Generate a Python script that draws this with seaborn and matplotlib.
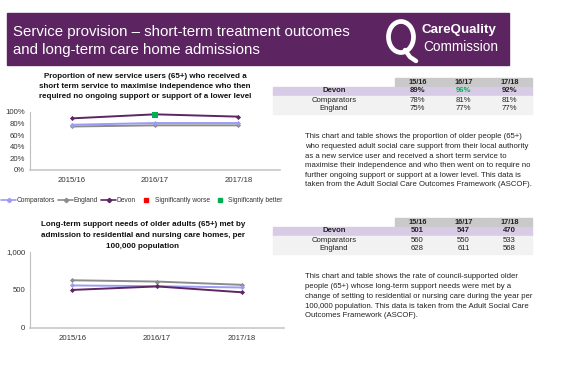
import matplotlib
matplotlib.use("Agg")
import matplotlib.pyplot as plt
import matplotlib.patches as mpatches
from matplotlib.lines import Line2D
import numpy as np
import pandas as pd
import seaborn as sns

# data
years = ['2015/16', '2016/17', '2017/18']
short_years = ['15/16', '16/17', '17/18']
areas = ['England', 'Comparators', 'Devon']

reab_devon = [89, 96, 92]
reab_comp = [78, 81, 81]
reab_eng = [75, 77, 77]
reab_better = [False, True, False]

adm_devon = [501, 547, 470]
adm_comp = [560, 550, 533]
adm_eng = [628, 611, 568]

colors = {'Devon': '#5E2563', 'Comparators': '#9C9CF5', 'England': '#8C8C8C'}

W, H = 562, 368
sns.set_style("white")
plt.rcParams['font.family'] = ['Liberation Sans', 'DejaVu Sans']

fig = plt.figure(figsize=(W / 100, H / 100), dpi=100)

def px_axes(l, t, r, b):
    return fig.add_axes([l / W, 1 - b / H, (r - l) / W, (b - t) / H])

# overlay for text / tables in pixel coords
ov = px_axes(0, 0, W, H)
ov.set_xlim(0, W)
ov.set_ylim(H, 0)
ov.axis('off')

# header
ov.add_patch(mpatches.Rectangle((7, 13), 502, 52, color='#5C2461'))
ov.text(13, 32, 'Service provision – short-term treatment outcomes', color='white',
        fontsize=10.8, va='center', ha='left')
ov.text(13, 50, 'and long-term care home admissions', color='white',
        fontsize=10.8, va='center', ha='left')
ov.add_patch(mpatches.Ellipse((401, 37), 25, 31, fill=False, edgecolor='white', lw=3.4))
ov.plot([405, 410, 416], [50, 57, 61], color='white', lw=3.2, solid_capstyle='round')
ov.text(421, 30, 'CareQuality', color='white', fontsize=9.6, fontweight='bold',
        va='center', ha='left')
ov.text(423, 47, 'Commission', color='white', fontsize=9.8, va='center', ha='left')


def draw_chart(ax, devon, comp, eng, ymax, step, fmt):
    df = pd.DataFrame({
        'year': years * 3,
        'value': eng + comp + devon,
        'area': ['England'] * 3 + ['Comparators'] * 3 + ['Devon'] * 3,
    })
    sns.lineplot(data=df, x='year', y='value', hue='area', hue_order=areas,
                 palette=colors, marker='D', markersize=2.6, markeredgewidth=0,
                 lw=1.4, sort=False, legend=False, ax=ax)
    ax.set_xlim(-0.5, 2.5)
    ax.set_ylim(0, ymax)
    ax.set_yticks(np.arange(0, ymax + 1, step))
    ax.set_yticklabels([fmt(v) for v in np.arange(0, ymax + 1, step)])
    ax.set_xticks([0, 1, 2])
    ax.set_xticks([0.5, 1.5, 2.5], minor=True)
    ax.tick_params(axis='x', which='major', length=0, labelsize=5.6, pad=5, colors='#333333')
    ax.tick_params(axis='x', which='minor', length=2, color='#BFBFBF', direction='in')
    ax.tick_params(axis='y', length=2, labelsize=5.6, pad=1.5, color='#A6A6A6',
                   labelcolor='#333333')
    ax.set_xlabel('')
    ax.set_ylabel('')
    ax.set_facecolor('none')
    for s in ['top', 'right']:
        ax.spines[s].set_visible(False)
    ax.spines['bottom'].set_color('#C8C8C8')
    ax.spines['left'].set_color('#BFBFBF')
    ax.spines['bottom'].set_linewidth(1.2)
    ax.spines['left'].set_linewidth(0.8)


# chart 1
ax1 = px_axes(30, 112, 280, 170)
draw_chart(ax1, reab_devon, reab_comp, reab_eng, 100, 20, lambda v: f'{int(v)}%')
sig = pd.DataFrame({'year': [y for y, b in zip(years, reab_better) if b],
                    'value': [v for v, b in zip(reab_devon, reab_better) if b]})
sns.scatterplot(data=sig, x='year', y='value', marker='s', s=22, color='#00B050',
                edgecolor='none', ax=ax1, zorder=5)
ax1.set_xlabel('')
ax1.set_ylabel('')

t1 = ['Proportion of new service users (65+) who received a',
      'short term service to maximise independence who then',
      'required no ongoing support or support of a lower level']
for i, line in enumerate(t1):
    ov.text(145, 76 + i * 10, line, fontsize=5.8, fontweight='bold', ha='center',
            va='center', color='#111111')

handles = [
    Line2D([], [], color=colors['Comparators'], marker='D', markersize=2.2, lw=1.2),
    Line2D([], [], color=colors['England'], marker='D', markersize=2.2, lw=1.2),
    Line2D([], [], color=colors['Devon'], marker='D', markersize=2.2, lw=1.2),
    Line2D([], [], color='#FF0000', marker='s', markersize=3.5, lw=0),
    Line2D([], [], color='#00B050', marker='s', markersize=3.5, lw=0),
]
labels = ['Comparators', 'England', 'Devon', 'Significantly worse', 'Significantly better']
fig.legend(handles, labels, loc='center', bbox_to_anchor=(142 / W, 1 - 201 / H), ncol=5,
           fontsize=4.8, frameon=False, handlelength=2.2, handletextpad=0.15,
           columnspacing=0.45, labelcolor='#333333')

# chart 2
ax2 = px_axes(30, 252, 284, 328)
draw_chart(ax2, adm_devon, adm_comp, adm_eng, 1000, 500, lambda v: f'{int(v):,}')

t2 = ['Long-term support needs of older adults (65+) met by',
      'admission to residential and nursing care homes, per',
      '100,000 population']
for i, line in enumerate(t2):
    ov.text(143, 225 + i * 10.5, line, fontsize=5.8, fontweight='bold', ha='center',
            va='center', color='#111111')


def draw_table(top, rows, fmt, green=None):
    rh = 9
    cols = [(395, 440), (441, 486), (487, 532)]
    for (l, r), lab in zip(cols, short_years):
        ov.add_patch(mpatches.Rectangle((l, top), r - l, rh, color='#C9C9C9'))
        ov.text((l + r) / 2, top + rh / 2, lab, fontsize=5.3, fontweight='bold',
                ha='center', va='center', color='#222222')
    for i, (name, vals) in enumerate(rows):
        y0 = top + rh * (i + 1)
        bg = '#D8CBE6' if i == 0 else '#F2F2F2'
        ov.add_patch(mpatches.Rectangle((273, y0), 532 - 273, rh, color=bg))
        bold = 'bold' if i == 0 else 'normal'
        ov.text(334, y0 + rh / 2, name, fontsize=5.6, fontweight=bold, ha='center',
                va='center', color='#222222')
        for j, ((l, r), v) in enumerate(zip(cols, vals)):
            c = '#00B050' if (i == 0 and green is not None and green[j]) else '#222222'
            ov.text((l + r) / 2, y0 + rh / 2, fmt(v), fontsize=5.6, fontweight=bold,
                    ha='center', va='center', color=c)


draw_table(77.5, [('Devon', reab_devon), ('Comparators', reab_comp), ('England', reab_eng)],
           lambda v: f'{v}%', green=reab_better)
draw_table(217.5, [('Devon', adm_devon), ('Comparators', adm_comp), ('England', adm_eng)],
           lambda v: f'{v}')

p1 = ['This chart and table shows the proportion of older people (65+)',
      'who requested adult social care support from their local authority',
      'as a new service user and received a short term service to',
      'maximise their independence and who then went on to require no',
      'further ongoing support or support at a lower level. This data is',
      'taken from the Adult Social Care Outcomes Framework (ASCOF).']
for i, line in enumerate(p1):
    ov.text(305, 137 + i * 9.6, line, fontsize=5.6, ha='left', va='center', color='#222222')

p2 = ['This chart and table shows the rate of council-supported older',
      'people (65+) whose long-term support needs were met by a',
      'change of setting to residential or nursing care during the year per',
      '100,000 population. This data is taken from the Adult Social Care',
      'Outcomes Framework (ASCOF).']
for i, line in enumerate(p2):
    ov.text(305, 277 + i * 9.7, line, fontsize=5.6, ha='left', va='center', color='#222222')

fig.savefig('out.png', dpi=100)
